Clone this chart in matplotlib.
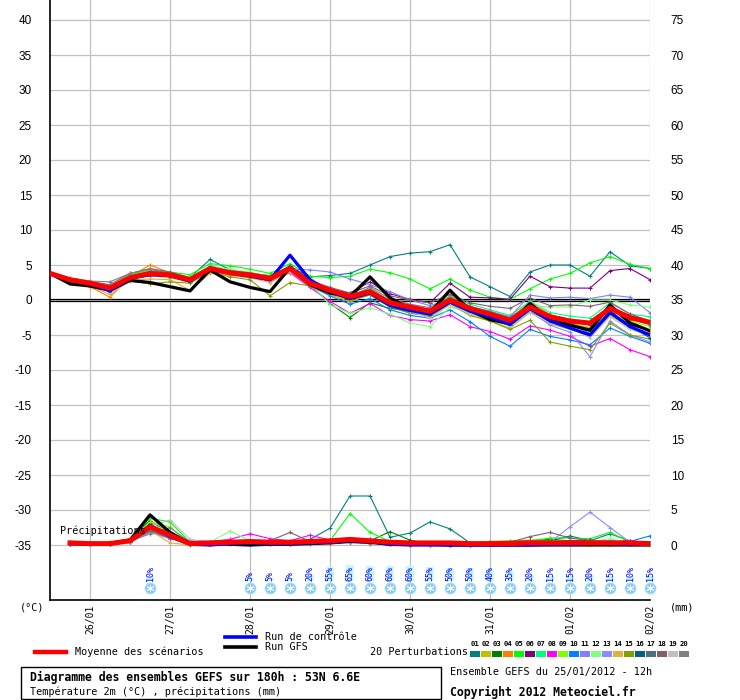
import numpy as np
import matplotlib
matplotlib.use('Agg')
import matplotlib.pyplot as plt
from matplotlib.patches import Rectangle

nan = np.nan
MONO = 'DejaVu Sans Mono'
SANS = 'Liberation Sans'

# forecast steps, hours from 25/01 00h (run 25/01 12h, every 6h up to +180h)
hours = list(range(12, 193, 6))

# 2m temperature (°C)
mean_t = [3.8, 2.9, 2.4, 1.7, 3.2, 3.8, 3.6, 2.9, 4.5, 3.9, 3.6, 3.1, 4.5, 2.4, 1.4, 0.5, 1.2, -0.4, -1.0, -1.6,
          0.0, -1.2, -2.0, -2.9, -1.0, -2.4, -3.0, -3.3, -1.2, -2.5, -3.2]
gfs_t = [3.8, 2.3, 2.0, 1.4, 2.8, 2.5, 1.9, 1.3, 4.3, 2.6, 1.8, 1.2, 4.6, 2.2, 1.0, 0.5, 3.3, 0.3, -1.2, -1.8,
         1.4, -1.5, -2.8, -3.4, -0.5, -2.8, -3.6, -4.3, -0.7, -3.3, -4.4]
ctrl_t = [3.8, 2.8, 2.3, 1.3, 3.1, 3.6, 3.5, 2.7, 4.6, 3.8, 3.4, 2.9, 6.4, 2.9, 1.2, 0.2, 1.0, -0.8, -1.5, -2.0,
          -0.3, -1.6, -2.4, -3.5, -1.2, -3.0, -4.0, -5.0, -1.8, -3.8, -5.0]

pert_t = [
    [3.8, 3.0, 2.6, 2.0, 3.5, 4.0, 3.9, 3.2, 5.8, 4.3, 3.8, 3.5, 4.8, 3.3, 3.5, 3.8, 5.0, 6.2, 6.7, 6.9,
     7.9, 3.3, 1.9, 0.5, 4.0, 5.0, 5.0, 3.4, 6.9, 4.9, 4.5],
    [3.8, 2.8, 2.2, 1.2, 3.0, 3.5, 3.2, 2.5, 4.2, 3.6, 3.3, 2.8, 4.0, 2.0, 0.8, -0.3, 0.8, -1.0, -1.8, -2.4,
     -0.6, -2.0, -3.0, -4.0, -1.8, -3.4, -4.2, -5.0, -2.2, -3.9, -4.8],
    [3.8, 2.9, 2.3, 1.6, 3.0, 3.7, 3.4, 2.7, 4.4, 3.7, 3.4, 2.9, 4.3, 2.2, -0.5, -2.5, -0.4, -1.2, -1.6, -2.2,
     -0.4, -1.8, -2.6, -3.6, -1.6, -3.0, -3.7, -4.4, -1.8, -3.6, -4.3],
    [3.8, 2.5, 1.9, 0.4, 3.3, 5.0, 3.9, 3.0, 4.6, 4.0, 3.5, 3.0, 4.8, 2.6, 1.5, 0.3, 1.0, -0.6, -1.3, -1.9,
     0.7, -1.0, -1.8, -2.6, -0.3, -2.1, -2.8, -3.5, -0.8, -2.8, -4.6],
    [3.8, 3.0, 2.6, 2.0, 3.6, 4.3, 4.0, 3.6, 5.2, 4.9, 4.4, 3.8, 5.2, 3.4, 3.2, 3.4, 4.4, 3.9, 3.0, 1.6,
     3.0, 1.4, 0.4, 0.1, 1.6, 3.0, 3.8, 5.3, 6.2, 5.1, 4.5],
    [3.8, 2.9, 2.4, 1.8, 3.4, 4.1, 3.8, 3.0, 4.6, 4.0, 3.7, 3.2, 4.9, 2.9, 1.5, 1.0, 2.6, 0.9, 0.1, -0.4,
     2.4, 0.4, 0.3, 0.1, 3.4, 1.9, 1.7, 1.7, 4.2, 4.5, 2.9],
    [3.8, 3.0, 2.5, 1.9, 3.3, 4.0, 3.8, 3.1, 4.9, 4.2, 3.9, 3.4, 4.7, 2.7, 1.6, 0.7, 1.6, -0.1, -0.8, -1.3,
     0.5, -0.6, -1.4, -2.2, -0.2, -1.8, -2.3, -2.6, -0.4, -2.0, -2.4],
    [3.8, 2.8, 2.2, 1.5, 3.0, 3.6, 3.3, 2.6, 4.2, 3.6, 3.2, 2.7, 3.9, 1.8, -0.2, -1.9, -0.5, -2.2, -2.8, -3.0,
     -2.1, -3.8, -4.5, -5.6, -3.7, -4.3, -5.2, -6.6, -5.5, -7.1, -8.1],
    [3.8, 2.9, 2.4, 1.8, 3.2, 3.9, 3.6, 3.1, 4.7, 4.1, 3.7, 3.2, 4.6, 2.6, 1.2, 0.3, 1.4, -0.5, -1.2, -1.8,
     -0.1, -1.5, -2.4, -3.3, -1.2, -2.6, -3.4, -3.9, -1.4, -3.0, -3.8],
    [3.8, 2.7, 2.1, 1.2, 3.0, 3.6, 3.4, 2.8, 4.3, 3.7, 3.4, 2.9, 4.2, 2.0, 0.6, -0.6, 0.2, -1.4, -2.2, -2.6,
     -1.4, -3.1, -5.2, -6.6, -4.2, -5.2, -5.7, -6.4, -4.0, -5.2, -6.2],
    [3.8, 3.0, 2.6, 2.0, 3.4, 3.9, 3.7, 3.0, 4.4, 3.9, 3.7, 3.3, 4.4, 4.3, 4.0, 3.0, 2.2, 1.2, 0.0, -0.8,
     0.1, -1.0, -1.6, -2.4, 0.7, 0.3, 0.4, 0.2, 0.7, 0.4, -1.8],
    [3.8, 3.1, 2.7, 2.1, 3.5, 4.1, 3.7, 3.3, 4.8, 4.4, 4.0, 3.3, 4.4, 2.4, -0.7, -1.9, -1.1, -2.0, -3.3, -3.8,
     -1.0, -1.8, -2.2, -2.6, -0.8, -1.0, -1.0, 0.0, 0.0, -0.7, -1.0],
    [3.8, 2.9, 2.4, 1.6, 3.2, 3.7, 3.5, 2.8, 4.4, 3.8, 3.5, 3.0, 4.3, 2.3, 1.1, 0.1, 0.9, -0.8, -1.4, -2.0,
     -0.4, -1.7, -2.6, -3.7, -1.6, -3.6, -4.6, -8.1, -3.0, -5.0, -6.0],
    [3.8, 2.6, 2.0, 0.8, 2.8, 3.0, 2.9, 1.4, 3.8, 3.5, 3.2, 2.5, 4.0, 2.3, 1.3, 0.2, 1.1, -0.6, -1.2, -1.9,
     0.4, -1.3, -2.2, -3.2, -0.9, -2.7, -3.4, -4.0, -1.6, -3.3, -4.4],
    [3.8, 2.8, 2.3, 1.5, 2.7, 2.3, 2.6, 2.4, 4.0, 3.3, 2.9, 0.6, 2.5, 2.0, 0.9, 0.0, 0.7, -1.0, -1.9, -2.3,
     -0.6, -2.2, -3.0, -4.2, -2.9, -6.0, -6.6, -7.1, -3.3, -5.0, -5.6],
    [3.8, 2.9, 2.3, 1.7, 3.1, 3.7, 3.4, 2.7, 4.5, 3.8, 3.5, 3.0, 4.7, 2.5, 1.3, 0.2, 1.3, -0.7, -1.3, -2.1,
     0.2, -1.4, -2.4, -3.6, -1.3, -2.8, -3.3, -4.8, -1.5, -3.8, -5.4],
    [3.8, 3.0, 2.5, 1.9, 3.3, 3.9, 3.7, 2.9, 4.6, 4.0, 3.6, 3.2, 4.5, 2.6, 1.5, 0.4, 1.3, -0.3, -1.0, -1.5,
     0.1, -1.1, -1.9, -2.8, -0.9, -2.3, -2.9, -3.6, -1.3, -2.7, -3.5],
    [3.8, 3.0, 2.6, 2.2, 3.8, 4.5, 4.0, 3.2, 4.7, 4.1, 3.8, 3.3, 4.6, 2.8, 1.8, 1.0, 2.0, 0.6, 0.0, -0.4,
     0.8, -0.4, -0.9, -1.2, 0.3, -0.8, -0.7, -0.9, -0.3, -2.0, -3.0],
    [3.8, 2.9, 2.5, 1.9, 3.4, 3.8, 3.7, 2.9, 4.3, 3.9, 3.6, 3.1, 4.2, 2.3, 1.2, 0.2, 1.0, -0.9, -1.6, -2.6,
     -0.7, -2.0, -2.7, -3.7, -1.8, -3.2, -4.0, -5.4, -2.4, -4.2, -5.0],
    [3.8, 3.1, 2.7, 2.6, 3.8, 4.4, 3.8, 3.1, 4.6, 4.0, 3.7, 3.3, 4.5, 2.5, 1.4, 0.5, 1.8, 0.2, -0.6, -1.1,
     0.4, -0.9, -1.7, -2.5, -0.6, -2.2, -2.8, -3.4, -1.0, -2.4, -3.3],
]

# precipitation (mm), first step has none
mean_p = [nan, 0.3, 0.2, 0.2, 0.6, 2.6, 1.4, 0.2, 0.3, 0.4, 0.5, 0.4, 0.4, 0.5, 0.6, 0.8, 0.6, 0.4, 0.3, 0.3,
          0.3, 0.2, 0.2, 0.2, 0.3, 0.3, 0.3, 0.3, 0.3, 0.3, 0.2]
gfs_p = [nan, 0.2, 0.1, 0.2, 0.7, 4.3, 1.8, 0.2, 0.3, 0.1, 0.0, 0.1, 0.1, 0.2, 0.3, 0.5, 0.4, 0.1, 0.1, 0.1,
         0.0, 0.0, 0.0, 0.0, 0.0, 0.0, 0.0, 0.0, 0.0, 0.0, 0.0]
ctrl_p = [nan, 0.2, 0.1, 0.2, 0.6, 2.8, 1.2, 0.1, 0.0, 0.2, 0.3, 0.2, 0.2, 0.3, 0.4, 0.6, 0.5, 0.1, 0.0, 0.0,
          0.0, 0.0, 0.0, 0.0, 0.0, 0.1, 0.1, 0.2, 0.2, 0.1, 0.1]

pert_p = [
    [nan, 0.2, 0.1, 0.3, 0.6, 2.2, 1.5, 0.3, 0.2, 0.4, 0.5, 0.3, 0.4, 0.8, 2.4, 7.0, 7.0, 1.1, 1.7, 3.3,
     2.3, 0.3, 0.1, 0.2, 0.4, 0.6, 1.3, 0.6, 1.6, 0.6, 0.3],
    [nan, 0.2, 0.1, 0.2, 0.5, 2.2, 1.3, 0.1, 0.2, 0.3, 0.3, 0.2, 0.3, 0.4, 0.5, 0.7, 0.6, 0.3, 0.1, 0.0,
     0.0, 0.2, 0.3, 0.5, 0.6, 0.5, 0.4, 0.3, 0.3, 0.2, 0.1],
    [nan, 0.2, 0.1, 0.3, 0.8, 3.5, 1.6, 0.2, 0.1, 0.3, 0.2, 0.1, 0.2, 0.5, 0.6, 0.7, 0.6, 1.9, 0.7, 0.1,
     0.1, 0.2, 0.4, 0.5, 0.6, 0.8, 0.6, 0.4, 0.2, 0.1, 0.1],
    [nan, 0.3, 0.1, 0.3, 0.6, 2.5, 1.8, 0.0, 0.1, 0.3, 0.4, 0.3, 0.2, 0.4, 0.5, 0.8, 0.7, 0.3, 0.2, 0.1,
     0.1, 0.1, 0.1, 0.2, 0.3, 0.4, 0.3, 0.3, 0.2, 0.2, 0.2],
    [nan, 0.3, 0.2, 0.4, 0.9, 3.8, 3.3, 0.4, 0.2, 0.6, 0.4, 0.5, 0.3, 0.6, 0.6, 4.5, 1.8, 0.5, 0.2, 0.1,
     0.0, 0.1, 0.2, 0.4, 0.6, 1.0, 1.0, 0.9, 1.8, 0.4, 0.3],
    [nan, 0.2, 0.2, 0.3, 0.7, 3.1, 1.4, 0.2, 0.2, 0.4, 0.5, 0.5, 0.4, 0.5, 0.6, 0.9, 0.8, 0.2, 0.1, 0.0,
     0.0, 0.0, 0.1, 0.2, 0.3, 0.4, 0.5, 0.7, 0.5, 0.6, 0.3],
    [nan, 0.3, 0.2, 0.4, 0.8, 2.7, 1.5, 0.2, 0.3, 0.4, 0.6, 0.4, 0.3, 0.4, 0.5, 0.6, 0.5, 0.2, 0.1, 0.1,
     0.1, 0.1, 0.2, 0.3, 0.4, 0.4, 0.5, 0.4, 0.3, 0.3, 0.2],
    [nan, 0.3, 0.1, 0.2, 0.5, 2.4, 0.9, 0.4, 0.5, 0.8, 1.6, 0.9, 0.6, 1.4, 0.7, 0.5, 0.3, 0.2, 0.1, 0.1,
     0.0, 0.0, 0.1, 0.2, 0.2, 0.3, 0.5, 0.4, 0.3, 0.2, 0.2],
    [nan, 0.2, 0.1, 0.3, 0.7, 3.3, 2.6, 0.1, 0.2, 0.3, 0.4, 0.3, 0.4, 0.5, 0.4, 0.6, 0.5, 0.2, 0.1, 0.1,
     0.0, 0.1, 0.3, 0.4, 0.5, 0.6, 0.5, 0.4, 0.4, 0.3, 0.2],
    [nan, 0.2, 0.1, 0.2, 0.4, 2.0, 1.1, 0.1, 0.1, 0.2, 0.3, 0.4, 0.3, 0.2, 0.3, 0.4, 0.3, 0.1, 0.0, 0.0,
     0.0, 0.0, 0.1, 0.1, 0.2, 0.3, 0.4, 0.3, 0.6, 0.5, 1.3],
    [nan, 0.2, 0.1, 0.2, 0.5, 1.9, 1.0, 0.7, 0.5, 0.4, 0.6, 0.5, 0.4, 0.5, 0.6, 0.7, 0.6, 0.3, 0.2, 0.1,
     0.0, 0.1, 0.1, 0.2, 0.3, 0.4, 0.5, 0.4, 0.3, 0.2, 0.2],
    [nan, 0.3, 0.2, 0.3, 0.7, 2.9, 2.0, 0.3, 0.4, 2.0, 0.6, 0.4, 0.3, 0.5, 0.4, 0.5, 0.6, 0.2, 0.1, 0.0,
     0.1, 0.2, 0.3, 0.3, 0.4, 0.6, 0.4, 0.5, 0.9, 0.3, 0.2],
    [nan, 0.2, 0.1, 0.2, 0.5, 1.8, 0.9, 0.6, 0.4, 0.3, 0.5, 0.4, 0.3, 0.4, 0.5, 0.6, 0.5, 0.3, 0.1, 0.1,
     0.0, 0.1, 0.1, 0.2, 0.3, 0.4, 2.6, 4.7, 2.5, 0.4, 0.2],
    [nan, 0.3, 0.2, 0.3, 0.6, 2.1, 0.3, 0.0, 0.1, 0.2, 0.3, 0.2, 0.2, 0.3, 0.4, 0.5, 0.4, 0.1, 0.0, 0.0,
     0.0, 0.0, 0.1, 0.2, 0.3, 0.3, 0.2, 0.2, 0.2, 0.1, 0.1],
    [nan, 0.2, 0.1, 0.2, 0.6, 2.8, 1.7, 0.2, 0.3, 0.4, 0.5, 0.3, 0.3, 0.4, 0.5, 0.6, 0.5, 0.3, 0.2, 0.1,
     0.0, 0.3, 0.5, 0.6, 0.7, 0.6, 0.5, 0.4, 0.3, 0.2, 0.2],
    [nan, 0.2, 0.1, 0.2, 0.5, 2.3, 1.2, 0.1, 0.2, 0.3, 0.2, 0.2, 0.2, 0.3, 0.4, 0.5, 0.4, 0.2, 0.1, 0.1,
     0.0, 0.0, 0.1, 0.2, 0.3, 0.4, 0.6, 0.5, 0.4, 0.3, 0.2],
    [nan, 0.3, 0.2, 0.2, 0.6, 2.0, 1.6, 0.2, 0.2, 0.3, 0.3, 0.3, 0.3, 0.4, 0.4, 0.5, 0.4, 0.2, 0.1, 0.1,
     0.1, 0.1, 0.2, 0.3, 0.3, 0.4, 0.4, 0.3, 0.3, 0.2, 0.2],
    [nan, 0.4, 0.2, 0.2, 0.6, 2.0, 1.0, 0.1, 0.2, 0.5, 0.7, 0.6, 1.8, 0.5, 0.4, 0.5, 0.3, 0.1, 0.0, 0.0,
     0.0, 0.1, 0.2, 0.4, 1.2, 1.8, 1.0, 0.6, 0.5, 0.2, 0.1],
    [nan, 0.3, 0.2, 0.3, 0.5, 2.6, 3.6, 0.8, 0.3, 0.2, 0.3, 0.2, 0.3, 0.4, 0.5, 0.6, 0.4, 0.2, 0.1, 0.0,
     0.0, 0.1, 0.1, 0.2, 0.2, 0.3, 0.3, 0.2, 0.3, 0.2, 0.1],
    [nan, 0.5, 0.3, 0.2, 0.5, 1.6, 2.5, 0.4, 0.3, 0.3, 0.4, 0.3, 0.4, 0.4, 0.3, 0.4, 0.2, 0.1, 0.0, 0.0,
     0.0, 0.0, 0.1, 0.1, 0.2, 0.2, 0.3, 0.2, 0.2, 0.1, 0.1],
]

pert_colors = ['#008080', '#c0c000', '#008000', '#ff8000', '#00ff00', '#800080', '#00ff80', '#ff00ff',
               '#80ff00', '#0080ff', '#8080ff', '#80ff80', '#8c8cff', '#e0b040', '#80a000', '#006080',
               '#507080', '#806070', '#c0c0c0', '#808080']

# probability of snow (%)
snow_hours = [42, 72, 78, 84, 90, 96, 102, 108, 114, 120, 126, 132, 138, 144, 150, 156, 162, 168, 174, 180, 186, 192]
snow_pct = [10, 5, 5, 5, 20, 55, 65, 60, 60, 60, 55, 50, 50, 40, 35, 20, 15, 15, 20, 15, 10, 15]

day_hours = [24, 48, 72, 96, 120, 144, 168, 192]
day_labels = ['26/01', '27/01', '28/01', '29/01', '30/01', '31/01', '01/02', '02/02']

P0 = -35  # precipitation baseline on the temperature scale

W, H = 740, 700
fig = plt.figure(figsize=(W / 100, H / 100), dpi=100)
ax = fig.add_axes([50 / W, 100 / H, 600 / W, 600 / H])
ax.set_xlim(12, 192)
ax.set_ylim(-300 / 7, 300 / 7)

for s in ['top', 'right']:
    ax.spines[s].set_visible(False)
for s in ['left', 'bottom']:
    ax.spines[s].set_color('black')
    ax.spines[s].set_linewidth(1.2)

yt = list(range(-35, 45, 5))
ax.set_yticks(yt)
ax.set_yticklabels([str(v) for v in yt], fontfamily=SANS, fontsize=8.5)
ax.set_xticks(day_hours)
ax.set_xticklabels(day_labels, rotation=90, fontfamily=MONO, fontsize=7)
ax.tick_params(axis='y', length=0, pad=13)
ax.tick_params(axis='x', length=0, pad=3)
ax.grid(True, color='#c0c0c0', lw=0.9, zorder=0)
ax.set_axisbelow(True)

ax2 = ax.twinx()
ax2.set_ylim(ax.get_ylim())
ax2.set_yticks(yt)
ax2.set_yticklabels([str(v + 35) for v in yt], fontfamily=SANS, fontsize=8.5)
ax2.tick_params(axis='y', length=0, pad=15)
for s in ax2.spines.values():
    s.set_visible(False)

# zero line (double)
ax.axhline(0.15, color='black', lw=0.9, zorder=2)
ax.axhline(-0.15, color='black', lw=0.9, zorder=2)

# members
for k in range(20):
    ax.plot(hours, pert_t[k], color=pert_colors[k], lw=0.8, marker='+', ms=3, mew=0.8, zorder=3)
    ax.plot(hours, [P0 + v for v in pert_p[k]], color=pert_colors[k], lw=0.8, marker='+', ms=3, mew=0.8,
            zorder=3)

ax.plot(hours, gfs_t, color='black', lw=2.3, zorder=4)
ax.plot(hours, [P0 + v for v in gfs_p], color='black', lw=2.3, zorder=4)
ax.plot(hours, ctrl_t, color='#0000ff', lw=2.3, zorder=5)
ax.plot(hours, [P0 + v for v in ctrl_p], color='#0000ff', lw=2.3, zorder=5)
ax.plot(hours, mean_t, color='#ff0000', lw=3.6, zorder=6)
ax.plot(hours, [P0 + v for v in mean_p], color='#ff0000', lw=3.6, zorder=6)

ax.text(15.0, P0 + 2.1, 'Précipitations', fontfamily=MONO, fontsize=7.3, va='center', ha='left', zorder=7)

# snow probability markers
ybase = P0 - 36 / 7
yicon = P0 - 43 / 7
for h, p in zip(snow_hours, snow_pct):
    ax.add_patch(Rectangle((h - 1.1, ybase), 2.2, (2 + 0.22 * p) / 7, facecolor='#c8f8ff', edgecolor='none',
                           zorder=2, clip_on=False))
    ax.text(h, ybase, f'{p}%', rotation=90, ha='center', va='bottom', color='#0000ff', fontfamily=MONO,
            fontsize=6, zorder=3, clip_on=False)
ax.scatter(snow_hours, [yicon] * len(snow_hours), s=55, color='#80c8f0', edgecolors='#a0d8f8', zorder=3,
           clip_on=False)
ax.scatter(snow_hours, [yicon] * len(snow_hours), s=22, marker=(6, 2, 0), color='white', linewidths=0.7,
           zorder=4, clip_on=False)


def fx(x):
    return x / W


def fy(y):
    return 1 - y / H


fig.text(fx(20), fy(607), '(°C)', fontfamily=MONO, fontsize=7.3, va='center')
fig.text(fx(670), fy(607), '(mm)', fontfamily=MONO, fontsize=7.3, va='center')

# legend
fig.add_artist(plt.Line2D([fx(35), fx(66)], [fy(652), fy(652)], color='#ff0000', lw=3.2))
fig.text(fx(75), fy(652), 'Moyenne des scénarios', fontfamily=MONO, fontsize=7.3, va='center')
fig.add_artist(plt.Line2D([fx(225), fx(256)], [fy(637), fy(637)], color='#0000ff', lw=2.6))
fig.text(fx(265), fy(637), 'Run de contrôle', fontfamily=MONO, fontsize=7.3, va='center')
fig.add_artist(plt.Line2D([fx(225), fx(256)], [fy(647), fy(647)], color='black', lw=2.6))
fig.text(fx(265), fy(647), 'Run GFS', fontfamily=MONO, fontsize=7.3, va='center')
fig.text(fx(370), fy(652), '20 Perturbations', fontfamily=MONO, fontsize=7.3, va='center')
for k in range(20):
    x0 = 470 + 11 * k
    fig.add_artist(Rectangle((fx(x0), fy(656.5)), 10 / W, 6 / H, transform=fig.transFigure,
                             facecolor=pert_colors[k], edgecolor='none'))
    fig.text(fx(x0 + 5), fy(644), f'{k + 1:02d}', fontfamily=MONO, fontsize=5.2, fontweight='bold',
             ha='center', va='center')

# title box
fig.add_artist(Rectangle((fx(20.5), fy(699)), 420 / W, 32 / H, transform=fig.transFigure, fill=False,
                         edgecolor='black', lw=1))
fig.text(fx(29.5), fy(677), 'Diagramme des ensembles GEFS sur 180h : 53N 6.6E', fontfamily=MONO,
         fontsize=8.3, fontweight='bold', va='center')
fig.text(fx(29.5), fy(692), 'Température 2m (°C) , précipitations (mm)', fontfamily=MONO, fontsize=7.3,
         va='center')
fig.text(fx(450), fy(672), 'Ensemble GEFS du 25/01/2012 - 12h', fontfamily=MONO, fontsize=7.3, va='center')
fig.text(fx(450), fy(692), 'Copyright 2012 Meteociel.fr', fontfamily=MONO, fontsize=8.3, fontweight='bold',
         va='center')

fig.savefig('out.png', dpi=100)
